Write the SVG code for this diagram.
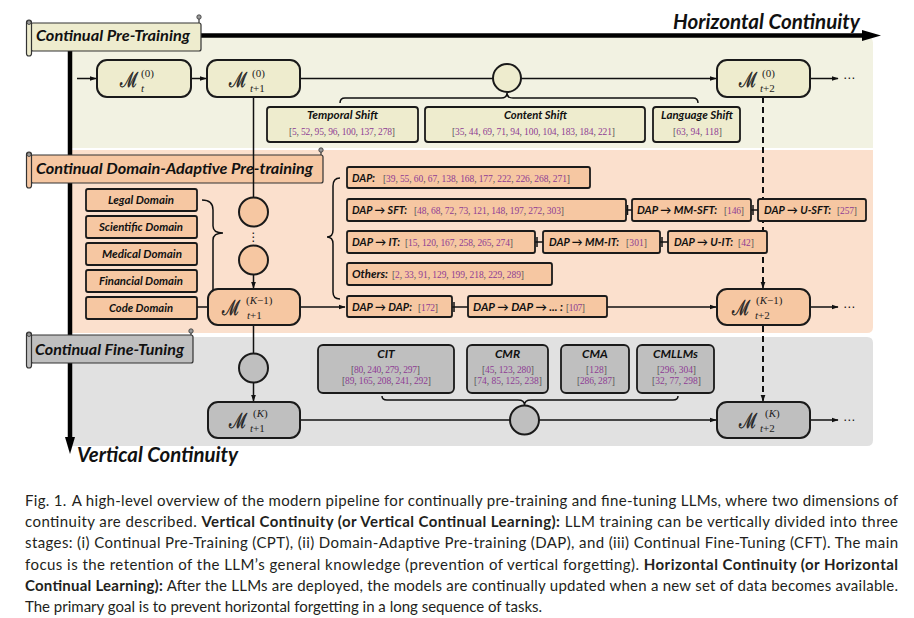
<svg xmlns="http://www.w3.org/2000/svg" width="914" height="618" viewBox="0 0 914 618">
<defs>
<marker id="ah" viewBox="0 0 10 10" refX="9" refY="5" markerWidth="7" markerHeight="7" markerUnits="userSpaceOnUse" orient="auto"><path d="M0,1.5 L10,5 L0,8.5 z" fill="#111"/></marker>
</defs>
<style>
.lbl{font-family:Lato,"Open Sans",sans-serif;font-weight:bold;font-style:italic;fill:#111}
.ref{font-family:"Liberation Serif",serif;font-size:9.5px;fill:#555}
.n{fill:#8e3c94}
.node{stroke:#1a1a1a;stroke-width:2}
.box{stroke:#1a1a1a;stroke-width:1.8}
.ln{stroke:#111;stroke-width:1.5;fill:none}
.dash{stroke:#111;stroke-width:2;fill:none;stroke-dasharray:6 4}
.cal{font-family:"DejaVu Serif",serif;font-size:21px;fill:#222;stroke:#222;stroke-width:0.45}
.ss{font-family:"Liberation Serif",serif;font-size:11px;fill:#222}
.it{font-style:italic}
.cpt{fill:#eeecce}
.dap{fill:#f6c7a2}
.cft{fill:#bfbfbf}
.ban{stroke:#333;stroke-width:1.2}
.knob{fill:#9a9a9a;stroke:#333;stroke-width:0.8}
.dots{font-family:"DejaVu Sans",sans-serif;font-size:12px;fill:#111}
.cap{font-family:Lato,"Open Sans",sans-serif;font-size:15px;fill:#231f20}
.b{font-weight:bold}
</style>

<!-- panels -->
<g id="panels">
<path d="M70,37 H867 Q873,37 873,43 V148 H70 Z" fill="#f2f2e2"/>
<path d="M70,150 H873 V327 Q873,333 867,333 H70 Z" fill="#fbe0cd"/>
<path d="M70,337 H867 Q873,337 873,343 V440 Q873,446 867,446 H70 Z" fill="#e1e1e1"/>
</g>

<!-- axes -->
<g id="axes">
<line x1="70" y1="35.5" x2="864" y2="35.5" stroke="#000" stroke-width="4.5"/>
<polygon points="862,30 881,35.5 862,41" fill="#000"/>
<line x1="70" y1="35" x2="70" y2="440" stroke="#000" stroke-width="4.5"/>
<polygon points="65,437 70,454 75,437" fill="#000"/>
<text class="lbl" x="673" y="29" font-size="21" textLength="187" lengthAdjust="spacingAndGlyphs">Horizontal Continuity</text>
<text class="lbl" x="77" y="462" font-size="21" textLength="161" lengthAdjust="spacingAndGlyphs">Vertical Continuity</text>
</g>

<!-- banners -->
<g id="banner-cpt">
<line x1="199" y1="17" x2="199" y2="24" stroke="#333" stroke-width="1.2"/>
<rect class="cpt ban" x="31" y="23" width="170" height="28" rx="2"/>
<rect class="cpt ban" x="26.5" y="20" width="5" height="36" rx="2.5"/>
<circle class="knob" cx="29" cy="22.5" r="2"/>
<circle class="knob" cx="199" cy="17" r="2.2"/>
<text class="lbl" x="36" y="41" font-size="16" textLength="154" lengthAdjust="spacingAndGlyphs">Continual Pre-Training</text>
</g>
<g id="banner-dap">
<line x1="321" y1="150" x2="321" y2="156" stroke="#333" stroke-width="1.2"/>
<rect class="dap ban" x="31" y="155" width="292" height="28" rx="2"/>
<rect class="dap ban" x="26.5" y="152" width="5" height="36" rx="2.5"/>
<circle class="knob" cx="29" cy="154.5" r="2"/>
<circle class="knob" cx="321" cy="150" r="2.2"/>
<text class="lbl" x="36" y="174" font-size="16" textLength="277" lengthAdjust="spacingAndGlyphs">Continual Domain-Adaptive Pre-training</text>
</g>
<g id="banner-cft">
<line x1="191" y1="331" x2="191" y2="336" stroke="#333" stroke-width="1.2"/>
<rect class="cft ban" x="31" y="335" width="162" height="28" rx="2"/>
<rect class="cft ban" x="26.5" y="332" width="5" height="36" rx="2.5"/>
<circle class="knob" cx="29" cy="334.5" r="2"/>
<circle class="knob" cx="191" cy="331" r="2.2"/>
<text class="lbl" x="35" y="355" font-size="16" textLength="149" lengthAdjust="spacingAndGlyphs">Continual Fine-Tuning</text>
</g>

<!-- connectors -->
<g id="connectors">
<line class="ln" x1="77" y1="78.5" x2="96" y2="78.5" marker-end="url(#ah)"/>
<line class="ln" x1="191" y1="78.5" x2="206" y2="78.5" marker-end="url(#ah)"/>
<line class="ln" x1="300" y1="78.5" x2="493" y2="78.5"/>
<line class="ln" x1="521" y1="78.5" x2="716" y2="78.5" marker-end="url(#ah)"/>
<line class="ln" x1="810" y1="78.5" x2="838" y2="78.5" marker-end="url(#ah)"/>
<path class="ln" d="M340,103 Q340,98 345,98 L501,98 Q507,98 507,93 Q507,98 513,98 L693,98 Q698,98 698,103"/>
<line class="ln" x1="253.5" y1="97" x2="253.5" y2="197.5"/>
<line class="dash" x1="763" y1="97" x2="763" y2="287"/>
<line class="ln" x1="763" y1="284" x2="763" y2="288" marker-end="url(#ah)"/>
<line class="ln" x1="253.5" y1="274.5" x2="253.5" y2="288" marker-end="url(#ah)"/>
<path class="ln" d="M202,200 Q213,200 213,210 L213,226 Q213,233 223,233 Q213,233 213,240 L213,291"/>
<line class="ln" x1="197" y1="307" x2="208" y2="307"/>
<path class="ln" d="M340,178 Q333,178 333,186 L333,230 Q333,237 327,237 Q333,237 333,244 L333,292 Q333,299 340,299"/>
<line class="ln" x1="300" y1="307" x2="345" y2="307" marker-end="url(#ah)"/>
<line class="ln" x1="452" y1="307" x2="468" y2="307"/><line class="ln" x1="454" y1="302" x2="454" y2="312"/>
<line class="ln" x1="607" y1="307" x2="716" y2="307" marker-end="url(#ah)"/>
<line class="ln" x1="810" y1="307" x2="838" y2="307" marker-end="url(#ah)"/>
<line class="ln" x1="626" y1="210" x2="632" y2="210"/><line class="ln" x1="627.5" y1="205" x2="627.5" y2="215"/>
<line class="ln" x1="751" y1="210" x2="758" y2="210"/><line class="ln" x1="753" y1="205" x2="753" y2="215"/>
<line class="ln" x1="535" y1="242" x2="543" y2="242"/><line class="ln" x1="537" y1="237" x2="537" y2="247"/>
<line class="ln" x1="660" y1="242" x2="668" y2="242"/><line class="ln" x1="662" y1="237" x2="662" y2="247"/>
<line class="dash" x1="763" y1="326" x2="763" y2="400"/>
<line class="ln" x1="763" y1="397" x2="763" y2="401" marker-end="url(#ah)"/>
<line class="ln" x1="253.5" y1="325" x2="253.5" y2="353.5"/>
<line class="ln" x1="253.5" y1="382.5" x2="253.5" y2="401" marker-end="url(#ah)"/>
<line class="ln" x1="300" y1="420" x2="510" y2="420"/>
<line class="ln" x1="539" y1="420" x2="716" y2="420" marker-end="url(#ah)"/>
<line class="ln" x1="810" y1="420" x2="838" y2="420" marker-end="url(#ah)"/>
<path class="ln" d="M382,396 Q382,400 387,400 L518,400 Q524.5,400 524.5,405 Q524.5,400 531,400 L673,400 Q678,400 678,396"/>
<text class="dots" x="843" y="82">⋯</text>
<text class="dots" x="843" y="311">⋯</text>
<text class="dots" x="843" y="424">⋯</text>
</g>

<!-- CPT nodes -->
<g id="m-t-0">
<rect class="cpt node" x="97" y="60" width="94" height="37" rx="10"/>
<text class="cal" x="120" y="87" textLength="18" lengthAdjust="spacingAndGlyphs">ℳ</text>
<text class="ss" x="141" y="77">(0)</text>
<text class="ss" x="141" y="92"><tspan class="it">t</tspan></text>
</g>
<g id="m-t1-0">
<rect class="cpt node" x="207" y="60" width="93" height="37" rx="10"/>
<text class="cal" x="229" y="87" textLength="18" lengthAdjust="spacingAndGlyphs">ℳ</text>
<text class="ss" x="252" y="77">(0)</text>
<text class="ss" x="250" y="92"><tspan class="it">t</tspan>+1</text>
</g>
<g id="cpt-circle"><circle class="cpt node" cx="507" cy="78" r="14"/></g>
<g id="m-t2-0">
<rect class="cpt node" x="717" y="60" width="93" height="37" rx="10"/>
<text class="cal" x="739" y="87" textLength="18" lengthAdjust="spacingAndGlyphs">ℳ</text>
<text class="ss" x="762" y="77">(0)</text>
<text class="ss" x="760" y="92"><tspan class="it">t</tspan>+2</text>
</g>

<g id="temporal-shift">
<rect class="cpt box" x="267" y="107" width="151" height="35" rx="3"/>
<text class="lbl" x="307" y="119" font-size="11.5" textLength="71" lengthAdjust="spacingAndGlyphs">Temporal Shift</text>
<text class="ref" x="289" y="135" textLength="106">[<tspan class="n">5</tspan>, <tspan class="n">52</tspan>, <tspan class="n">95</tspan>, <tspan class="n">96</tspan>, <tspan class="n">100</tspan>, <tspan class="n">137</tspan>, <tspan class="n">278</tspan>]</text>
</g>
<g id="content-shift">
<rect class="cpt box" x="425" y="107" width="220" height="35" rx="3"/>
<text class="lbl" x="504" y="119" font-size="11.5" textLength="63" lengthAdjust="spacingAndGlyphs">Content Shift</text>
<text class="ref" x="452" y="135" textLength="163">[<tspan class="n">35</tspan>, <tspan class="n">44</tspan>, <tspan class="n">69</tspan>, <tspan class="n">71</tspan>, <tspan class="n">94</tspan>, <tspan class="n">100</tspan>, <tspan class="n">104</tspan>, <tspan class="n">183</tspan>, <tspan class="n">184</tspan>, <tspan class="n">221</tspan>]</text>
</g>
<g id="language-shift">
<rect class="cpt box" x="653" y="107" width="87" height="35" rx="3"/>
<text class="lbl" x="661" y="119" font-size="11.5" textLength="72" lengthAdjust="spacingAndGlyphs">Language Shift</text>
<text class="ref" x="673" y="135" textLength="49">[<tspan class="n">63</tspan>, <tspan class="n">94</tspan>, <tspan class="n">118</tspan>]</text>
</g>

<!-- DAP -->
<g id="legal"><rect class="dap box" x="86" y="189" width="111" height="22" rx="2"/><text class="lbl" x="108" y="204" font-size="11.5" textLength="66" lengthAdjust="spacingAndGlyphs">Legal Domain</text></g>
<g id="scientific"><rect class="dap box" x="86" y="216" width="111" height="22" rx="2"/><text class="lbl" x="99" y="231" font-size="11.5" textLength="84" lengthAdjust="spacingAndGlyphs">Scientific Domain</text></g>
<g id="medical"><rect class="dap box" x="86" y="243" width="111" height="22" rx="2"/><text class="lbl" x="102" y="258" font-size="11.5" textLength="80" lengthAdjust="spacingAndGlyphs">Medical Domain</text></g>
<g id="financial"><rect class="dap box" x="86" y="270" width="111" height="22" rx="2"/><text class="lbl" x="99" y="285" font-size="11.5" textLength="84" lengthAdjust="spacingAndGlyphs">Financial Domain</text></g>
<g id="code"><rect class="dap box" x="86" y="297" width="111" height="22" rx="2"/><text class="lbl" x="109" y="312" font-size="11.5" textLength="64" lengthAdjust="spacingAndGlyphs">Code Domain</text></g>

<g id="dap-circle-1"><circle class="dap node" cx="253.5" cy="212" r="14.5"/></g>
<g id="dap-dots"><text class="dots" x="253.5" y="241" text-anchor="middle">⋮</text></g>
<g id="dap-circle-2"><circle class="dap node" cx="253.5" cy="260" r="14.5"/></g>
<g id="m-t1-k1">
<rect class="dap node" x="208" y="289" width="92" height="36" rx="10"/>
<text class="cal" x="222" y="315" textLength="18" lengthAdjust="spacingAndGlyphs">ℳ</text>
<text class="ss" x="246" y="304">(<tspan class="it">K</tspan>−1)</text>
<text class="ss" x="247" y="319"><tspan class="it">t</tspan>+1</text>
</g>
<g id="m-t2-k1">
<rect class="dap node" x="717" y="289" width="93" height="36" rx="10"/>
<text class="cal" x="732" y="315" textLength="18" lengthAdjust="spacingAndGlyphs">ℳ</text>
<text class="ss" x="756" y="304">(<tspan class="it">K</tspan>−1)</text>
<text class="ss" x="755" y="319"><tspan class="it">t</tspan>+2</text>
</g>

<g id="dap-box">
<rect class="dap box" x="347" y="167" width="243" height="21" rx="2"/>
<text class="lbl" x="352" y="182" font-size="11" textLength="23" lengthAdjust="spacingAndGlyphs">DAP:</text>
<text class="ref" x="383" y="182" textLength="187">[<tspan class="n">39</tspan>, <tspan class="n">55</tspan>, <tspan class="n">60</tspan>, <tspan class="n">67</tspan>, <tspan class="n">138</tspan>, <tspan class="n">168</tspan>, <tspan class="n">177</tspan>, <tspan class="n">222</tspan>, <tspan class="n">226</tspan>, <tspan class="n">268</tspan>, <tspan class="n">271</tspan>]</text>
</g>
<g id="dap-sft">
<rect class="dap box" x="347" y="199" width="279" height="22" rx="2"/>
<text class="lbl" x="352" y="214" font-size="11" textLength="55" lengthAdjust="spacingAndGlyphs">DAP → SFT:</text>
<text class="ref" x="414" y="214" textLength="150">[<tspan class="n">48</tspan>, <tspan class="n">68</tspan>, <tspan class="n">72</tspan>, <tspan class="n">73</tspan>, <tspan class="n">121</tspan>, <tspan class="n">148</tspan>, <tspan class="n">197</tspan>, <tspan class="n">272</tspan>, <tspan class="n">303</tspan>]</text>
</g>
<g id="dap-mm-sft">
<rect class="dap box" x="632" y="199" width="119" height="22" rx="2"/>
<text class="lbl" x="637" y="214" font-size="11" textLength="80" lengthAdjust="spacingAndGlyphs">DAP → MM-SFT:</text>
<text class="ref" x="724" y="214" textLength="20">[<tspan class="n">146</tspan>]</text>
</g>
<g id="dap-u-sft">
<rect class="dap box" x="758" y="199" width="108" height="22" rx="2"/>
<text class="lbl" x="764" y="214" font-size="11" textLength="67" lengthAdjust="spacingAndGlyphs">DAP → U-SFT:</text>
<text class="ref" x="837" y="214" textLength="20">[<tspan class="n">257</tspan>]</text>
</g>
<g id="dap-it">
<rect class="dap box" x="347" y="231" width="188" height="22" rx="2"/>
<text class="lbl" x="352" y="246" font-size="11" textLength="48" lengthAdjust="spacingAndGlyphs">DAP → IT:</text>
<text class="ref" x="405" y="246" textLength="108">[<tspan class="n">15</tspan>, <tspan class="n">120</tspan>, <tspan class="n">167</tspan>, <tspan class="n">258</tspan>, <tspan class="n">265</tspan>, <tspan class="n">274</tspan>]</text>
</g>
<g id="dap-mm-it">
<rect class="dap box" x="543" y="231" width="117" height="22" rx="2"/>
<text class="lbl" x="549" y="246" font-size="11" textLength="70" lengthAdjust="spacingAndGlyphs">DAP → MM-IT:</text>
<text class="ref" x="626" y="246" textLength="21">[<tspan class="n">301</tspan>]</text>
</g>
<g id="dap-u-it">
<rect class="dap box" x="668" y="231" width="99" height="22" rx="2"/>
<text class="lbl" x="674" y="246" font-size="11" textLength="59" lengthAdjust="spacingAndGlyphs">DAP → U-IT:</text>
<text class="ref" x="738" y="246" textLength="16">[<tspan class="n">42</tspan>]</text>
</g>
<g id="others">
<rect class="dap box" x="347" y="263" width="205" height="22" rx="2"/>
<text class="lbl" x="352" y="278" font-size="11" textLength="36" lengthAdjust="spacingAndGlyphs">Others:</text>
<text class="ref" x="392" y="278" textLength="132">[<tspan class="n">2</tspan>, <tspan class="n">33</tspan>, <tspan class="n">91</tspan>, <tspan class="n">129</tspan>, <tspan class="n">199</tspan>, <tspan class="n">218</tspan>, <tspan class="n">229</tspan>, <tspan class="n">289</tspan>]</text>
</g>
<g id="dap-dap">
<rect class="dap box" x="347" y="296" width="105" height="21" rx="2"/>
<text class="lbl" x="352" y="311" font-size="11" textLength="60" lengthAdjust="spacingAndGlyphs">DAP → DAP:</text>
<text class="ref" x="418" y="311" textLength="20">[<tspan class="n">172</tspan>]</text>
</g>
<g id="dap-dap-more">
<rect class="dap box" x="468" y="296" width="139" height="21" rx="2"/>
<text class="lbl" x="473" y="311" font-size="11" textLength="90" lengthAdjust="spacingAndGlyphs">DAP → DAP → ... :</text>
<text class="ref" x="566" y="311" textLength="19">[<tspan class="n">107</tspan>]</text>
</g>

<!-- CFT -->
<g id="cft-circle-1"><circle class="cft node" cx="253.5" cy="368" r="14.5"/></g>
<g id="m-t1-k">
<rect class="cft node" x="208" y="402" width="92" height="36" rx="10"/>
<text class="cal" x="229" y="428" textLength="18" lengthAdjust="spacingAndGlyphs">ℳ</text>
<text class="ss" x="253" y="417">(<tspan class="it">K</tspan>)</text>
<text class="ss" x="250" y="432"><tspan class="it">t</tspan>+1</text>
</g>
<g id="cft-circle-2"><circle class="cft node" cx="524.5" cy="420" r="14.5"/></g>
<g id="m-t2-k">
<rect class="cft node" x="717" y="402" width="93" height="36" rx="10"/>
<text class="cal" x="739" y="428" textLength="18" lengthAdjust="spacingAndGlyphs">ℳ</text>
<text class="ss" x="765" y="417">(<tspan class="it">K</tspan>)</text>
<text class="ss" x="760" y="432"><tspan class="it">t</tspan>+2</text>
</g>
<g id="cit">
<rect class="cft box" x="318" y="345" width="136" height="48" rx="5"/>
<text class="lbl" x="386" y="358" font-size="12" text-anchor="middle">CIT</text>
<text class="ref" x="351" y="373" textLength="69">[<tspan class="n">80</tspan>, <tspan class="n">240</tspan>, <tspan class="n">279</tspan>, <tspan class="n">297</tspan>]</text>
<text class="ref" x="342" y="384" textLength="89">[<tspan class="n">89</tspan>, <tspan class="n">165</tspan>, <tspan class="n">208</tspan>, <tspan class="n">241</tspan>, <tspan class="n">292</tspan>]</text>
</g>
<g id="cmr">
<rect class="cft box" x="467" y="345" width="81" height="48" rx="5"/>
<text class="lbl" x="507.5" y="358" font-size="12" text-anchor="middle">CMR</text>
<text class="ref" x="482" y="373" textLength="52">[<tspan class="n">45</tspan>, <tspan class="n">123</tspan>, <tspan class="n">280</tspan>]</text>
<text class="ref" x="474" y="384" textLength="68">[<tspan class="n">74</tspan>, <tspan class="n">85</tspan>, <tspan class="n">125</tspan>, <tspan class="n">238</tspan>]</text>
</g>
<g id="cma">
<rect class="cft box" x="561" y="345" width="68" height="48" rx="5"/>
<text class="lbl" x="595" y="358" font-size="12" text-anchor="middle">CMA</text>
<text class="ref" x="586" y="373" textLength="21">[<tspan class="n">128</tspan>]</text>
<text class="ref" x="577" y="384" textLength="38">[<tspan class="n">286</tspan>, <tspan class="n">287</tspan>]</text>
</g>
<g id="cmllms">
<rect class="cft box" x="637" y="345" width="77" height="48" rx="5"/>
<text class="lbl" x="675.5" y="358" font-size="12" text-anchor="middle">CMLLMs</text>
<text class="ref" x="657" y="373" textLength="39">[<tspan class="n">296</tspan>, <tspan class="n">304</tspan>]</text>
<text class="ref" x="652" y="384" textLength="49">[<tspan class="n">32</tspan>, <tspan class="n">77</tspan>, <tspan class="n">298</tspan>]</text>
</g>

<!-- caption -->
<g id="caption">
<text class="cap" x="25" y="506" textLength="873" lengthAdjust="spacing">Fig. 1.<tspan dx="5">A high-level overview of the modern pipeline for continually pre-training and fine-tuning LLMs, where two dimensions of</tspan></text>
<text class="cap" x="25" y="527" textLength="873" lengthAdjust="spacing">continuity are described. <tspan class="b">Vertical Continuity (or Vertical Continual Learning):</tspan> LLM training can be vertically divided into three</text>
<text class="cap" x="25" y="548" textLength="873" lengthAdjust="spacing">stages: (i) Continual Pre-Training (CPT), (ii) Domain-Adaptive Pre-training (DAP), and (iii) Continual Fine-Tuning (CFT). The main</text>
<text class="cap" x="25" y="570" textLength="873" lengthAdjust="spacing">focus is the retention of the LLM’s general knowledge (prevention of vertical forgetting). <tspan class="b">Horizontal Continuity (or Horizontal</tspan></text>
<text class="cap" x="25" y="591" textLength="873" lengthAdjust="spacing"><tspan class="b">Continual Learning):</tspan> After the LLMs are deployed, the models are continually updated when a new set of data becomes available.</text>
<text class="cap" x="25" y="612">The primary goal is to prevent horizontal forgetting in a long sequence of tasks.</text>
</g>
</svg>
